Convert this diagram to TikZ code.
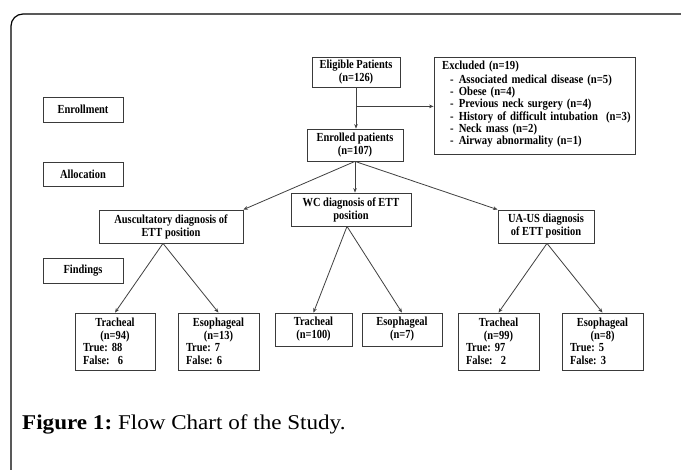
\documentclass[tikz,border=0pt]{standalone}
\usepackage{fontspec}
\setmainfont{Liberation Serif}
\newfontfamily\cfont[FakeStretch=0.85]{Liberation Serif}
\newfontfamily\lfont[FakeStretch=0.87,WordSpace=1.5]{Liberation Serif}
\newfontfamily\capfont[FakeStretch=1.1]{Liberation Serif}
\usetikzlibrary{arrows.meta}
\definecolor{boxc}{HTML}{3A3A3A}
\definecolor{linec}{HTML}{404040}
\frenchspacing
\begin{document}
\begin{tikzpicture}[x=1pt,y=-1pt,
  box/.style={draw=boxc, line width=0.8pt, inner sep=0pt, align=center,
    font=\cfont\bfseries\fontsize{12.3}{13}\selectfont, text=black},
  lst/.style={inner sep=0pt, font=\lfont\bfseries\fontsize{12.3}{12.2}\selectfont},
  bot/.style={box, font=\cfont\bfseries\fontsize{12.3}{12.6}\selectfont, align=left},
  arr/.style={draw=linec, line width=0.8pt, -{Stealth[length=4.5pt,width=3.6pt]}}]
\useasboundingbox (0,0) rectangle (681,470);
\clip (0,0) rectangle (681,470);
\fill[white] (0,0) rectangle (681,470);
\draw[line width=1.2pt, rounded corners=12pt] (11,520) -- (11,14) -- (740,14);

% stage labels
\node[box, minimum width=80pt, minimum height=25pt] (enroll) at (83,109.5) {Enrollment};
\node[box, minimum width=80pt, minimum height=24pt] (alloc) at (83,174) {Allocation};
\node[box, minimum width=80pt, minimum height=25pt] (find) at (83,270.5) {Findings};

% main flow
\node[box, minimum width=88pt, minimum height=30pt] (elig) at (356,72) {Eligible Patients\\(n=126)};
\node[box, minimum width=201pt, minimum height=97pt] (excl) at (534.5,105.5) {};
\node[lst, anchor=north west] (excltxt) at (442,61) {%
  \begin{tabular}{@{\hspace{8pt}}l@{\hspace{5pt}}l@{}}
  \multicolumn{2}{@{}l@{}}{Excluded (n=19)}\\[1.5pt]
  -& Associated medical disease (n=5)\\
  -& Obese (n=4)\\
  -& Previous neck surgery (n=4)\\
  -& History of difficult intubation\ \ (n=3)\\
  -& Neck mass (n=2)\\
  -& Airway abnormality (n=1)
  \end{tabular}};
\node[box, minimum width=96pt, minimum height=32pt] (enrolled) at (355,145) {Enrolled patients\\(n=107)};

\node[box, minimum width=144pt, minimum height=33pt] (ausc) at (171,226.5) {Auscultatory diagnosis of\\ETT position};
\node[box, minimum width=120pt, minimum height=33pt] (wc) at (351,209.5) {WC diagnosis of ETT\\position};
\node[box, minimum width=96pt, minimum height=33pt] (uaus) at (546,226.5) {UA-US diagnosis\\of ETT position};

% findings
\node[bot, text width=64pt, minimum width=80pt, minimum height=57pt] (tr1) at (115,341.5)
  {\makebox[64pt]{Tracheal}\\\makebox[64pt]{(n=94)}\\True: 88\\False:\ \ 6};
\node[bot, text width=65pt, minimum width=81pt, minimum height=57pt] (es1) at (218.5,341.5)
  {\makebox[65pt]{Esophageal}\\\makebox[65pt]{(n=13)}\\True: 7\\False: 6};
\node[box, minimum width=77pt, minimum height=33pt] (tr2) at (313.5,329.5) {Tracheal\\(n=100)};
\node[box, minimum width=80pt, minimum height=33pt] (es2) at (402,329.5) {Esophageal\\(n=7)};
\node[bot, text width=65pt, minimum width=81pt, minimum height=57pt] (tr3) at (498.5,341.5)
  {\makebox[65pt]{Tracheal}\\\makebox[65pt]{(n=99)}\\True: 97\\False:\ \ 2};
\node[bot, text width=65pt, minimum width=81pt, minimum height=57pt] (es3) at (602.5,341.5)
  {\makebox[65pt]{Esophageal}\\\makebox[65pt]{(n=8)}\\True: 5\\False: 3};

% connectors
\draw[arr] (elig.south) -- (elig.south |- enrolled.north);
\coordinate (br) at ([yshift=-19pt]elig.south);
\draw[arr] (br) -- (br -| excl.west);
\draw[arr] (enrolled.south) -- (ausc.north east);
\draw[arr] (enrolled.south) -- (enrolled.south |- wc.north);
\draw[arr] (enrolled.south) -- (uaus.north west);
\draw[arr] ([xshift=-8pt]ausc.south) -- (tr1.north);
\draw[arr] ([xshift=-8pt]ausc.south) -- (es1.north);
\draw[arr] ([xshift=-4pt]wc.south) -- (tr2.north);
\draw[arr] ([xshift=-4pt]wc.south) -- (es2.north);
\draw[arr] ([xshift=1pt]uaus.south) -- (tr3.north);
\draw[arr] ([xshift=1pt]uaus.south) -- (es3.north);

% caption
\node[anchor=base west, inner sep=0pt, font=\capfont\fontsize{21}{26}\selectfont] (cap) at (22,430)
  {\textbf{Figure 1:} Flow Chart of the Study.};
\end{tikzpicture}
\end{document}
